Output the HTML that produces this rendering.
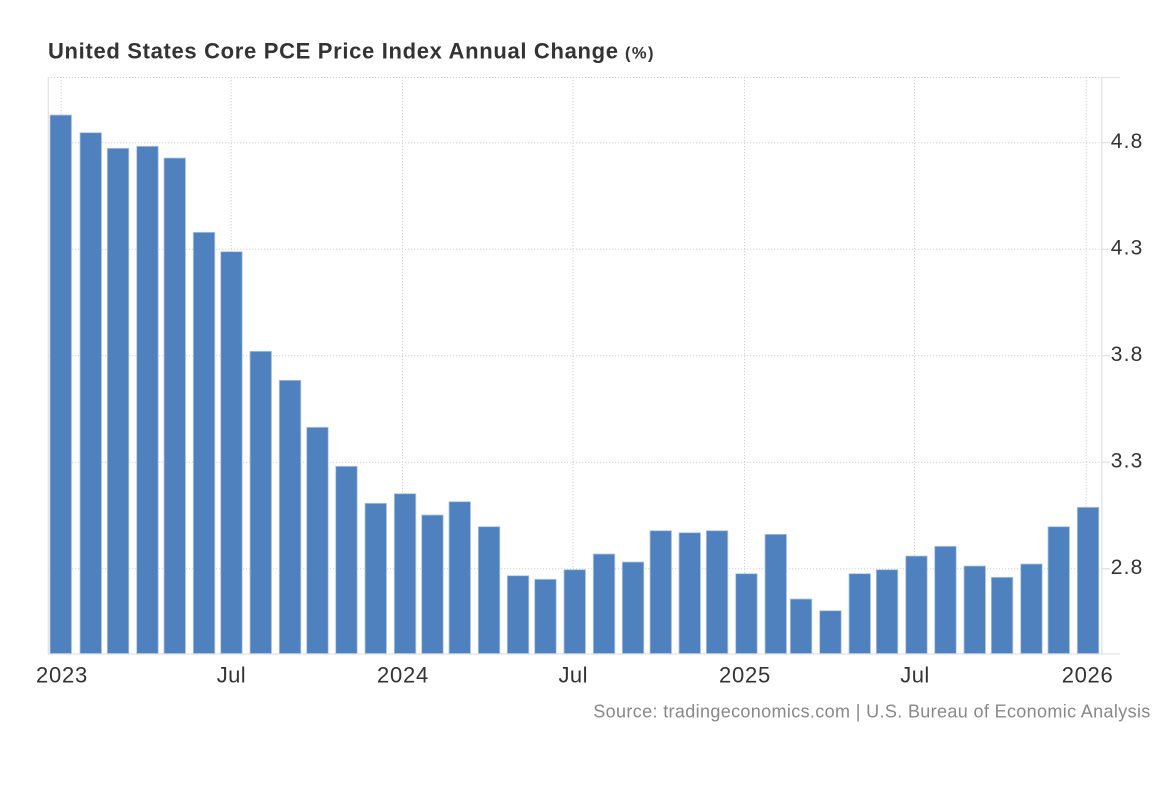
<!DOCTYPE html>
<html>
<head>
<meta charset="utf-8">
<style>
  html, body { margin:0; padding:0; background:#fff; }
  body { width:1171px; height:800px; overflow:hidden; }
  svg { display:block; }
  text { font-family: "Liberation Sans", Arial, sans-serif; }
</style>
</head>
<body>
<svg width="1171" height="800" viewBox="0 0 1171 800" xmlns="http://www.w3.org/2000/svg">
  <rect x="0" y="0" width="1171" height="800" fill="#fff"/>

  <!-- Title -->
  <text x="48" y="58.3" font-size="22" font-weight="bold" fill="#333" textLength="570" lengthAdjust="spacing">United States Core PCE Price Index Annual Change</text>
  <text x="625" y="58.3" font-size="16.5" font-weight="bold" fill="#333" textLength="28.5" lengthAdjust="spacing">(%)</text>

  <!-- Horizontal dotted gridlines -->
  <g stroke="#d2d2d2" stroke-width="1" stroke-dasharray="1.2 1.8" fill="none">
    <line x1="48" y1="77.5" x2="1102" y2="77.5"/>
    <line x1="48" y1="142.7" x2="1102" y2="142.7"/>
    <line x1="48" y1="249.2" x2="1102" y2="249.2"/>
    <line x1="48" y1="355.7" x2="1102" y2="355.7"/>
    <line x1="48" y1="462.2" x2="1102" y2="462.2"/>
    <line x1="48" y1="568.7" x2="1102" y2="568.7"/>
    <!-- Vertical dotted gridlines -->
    <line x1="61.2" y1="77" x2="61.2" y2="653"/>
    <line x1="231.2" y1="77" x2="231.2" y2="653"/>
    <line x1="402.5" y1="77" x2="402.5" y2="653"/>
    <line x1="573" y1="77" x2="573" y2="653"/>
    <line x1="744.5" y1="77" x2="744.5" y2="653"/>
    <line x1="914.5" y1="77" x2="914.5" y2="653"/>
    <line x1="1086.2" y1="77" x2="1086.2" y2="653"/>
  </g>

  <!-- Axis lines -->
  <g stroke="#e3e3e3" stroke-width="1.3" fill="none">
    <line x1="48.3" y1="77" x2="48.3" y2="654"/>
    <line x1="1101.8" y1="77" x2="1101.8" y2="654"/>
    <line x1="48" y1="654" x2="1120" y2="654"/>
    <line x1="1102" y1="77.5" x2="1120" y2="77.5"/>
    <line x1="1102" y1="142.7" x2="1110" y2="142.7"/>
    <line x1="1102" y1="249.2" x2="1110" y2="249.2"/>
    <line x1="1102" y1="355.7" x2="1110" y2="355.7"/>
    <line x1="1102" y1="462.2" x2="1110" y2="462.2"/>
    <line x1="1102" y1="568.7" x2="1110" y2="568.7"/>
  </g>

  <!-- Bars -->
  <g fill="#4e81bd" stroke="#b3c8e3" stroke-width="0.8">
    <rect x="50" y="115" width="21.5" height="538.5"/>
    <rect x="80" y="132.7" width="21.5" height="520.8"/>
    <rect x="107.3" y="148.3" width="21.5" height="505.2"/>
    <rect x="136.7" y="146.3" width="21.5" height="507.2"/>
    <rect x="164" y="158" width="21.5" height="495.5"/>
    <rect x="193.3" y="232.3" width="21.5" height="421.2"/>
    <rect x="220.7" y="251.7" width="21.5" height="401.8"/>
    <rect x="250" y="351.3" width="21.5" height="302.2"/>
    <rect x="279.3" y="380.3" width="21.5" height="273.2"/>
    <rect x="306.7" y="427.3" width="21.5" height="226.2"/>
    <rect x="335.7" y="466.3" width="21.5" height="187.2"/>
    <rect x="365" y="503.3" width="21.5" height="150.2"/>
    <rect x="394.3" y="493.7" width="21.5" height="159.8"/>
    <rect x="421.7" y="515" width="21.5" height="138.5"/>
    <rect x="449" y="501.7" width="21.5" height="151.8"/>
    <rect x="478.3" y="526.7" width="21.5" height="126.8"/>
    <rect x="507.3" y="575.7" width="21.5" height="77.8"/>
    <rect x="534.7" y="579.3" width="21.5" height="74.2"/>
    <rect x="564" y="569.7" width="21.5" height="83.8"/>
    <rect x="593.3" y="554" width="21.5" height="99.5"/>
    <rect x="622.3" y="562" width="21.5" height="91.5"/>
    <rect x="650" y="530.7" width="21.5" height="122.8"/>
    <rect x="679" y="532.7" width="21.5" height="120.8"/>
    <rect x="706.3" y="530.7" width="21.5" height="122.8"/>
    <rect x="735.7" y="573.7" width="21.5" height="79.8"/>
    <rect x="765" y="534.3" width="21.5" height="119.2"/>
    <rect x="790.3" y="599" width="21.5" height="54.5"/>
    <rect x="819.7" y="610.7" width="21.5" height="42.8"/>
    <rect x="849" y="573.7" width="21.5" height="79.8"/>
    <rect x="876.3" y="569.7" width="21.5" height="83.8"/>
    <rect x="905.7" y="556" width="21.5" height="97.5"/>
    <rect x="934.7" y="546.3" width="21.5" height="107.2"/>
    <rect x="964" y="566" width="21.5" height="87.5"/>
    <rect x="991.3" y="577.3" width="21.5" height="76.2"/>
    <rect x="1020.7" y="564" width="21.5" height="89.5"/>
    <rect x="1048" y="526.7" width="21.5" height="126.8"/>
    <rect x="1077.3" y="507.3" width="21.5" height="146.2"/>
  </g>

  <!-- Y axis labels -->
  <g fill="#333" font-size="21">
    <text x="1110.7" y="148" textLength="31.6" lengthAdjust="spacing">4.8</text>
    <text x="1110.7" y="254.5" textLength="31.6" lengthAdjust="spacing">4.3</text>
    <text x="1110.7" y="361" textLength="31.6" lengthAdjust="spacing">3.8</text>
    <text x="1110.7" y="467.5" textLength="31.6" lengthAdjust="spacing">3.3</text>
    <text x="1110.7" y="574" textLength="31.6" lengthAdjust="spacing">2.8</text>
  </g>

  <!-- X axis labels -->
  <g fill="#333" font-size="22">
    <text x="36" y="682.7" textLength="51.3" lengthAdjust="spacing">2023</text>
    <text x="216.7" y="682.7" textLength="29" lengthAdjust="spacing">Jul</text>
    <text x="377" y="682.7" textLength="51.3" lengthAdjust="spacing">2024</text>
    <text x="558.5" y="682.7" textLength="29" lengthAdjust="spacing">Jul</text>
    <text x="719" y="682.7" textLength="51.3" lengthAdjust="spacing">2025</text>
    <text x="900.3" y="682.7" textLength="29" lengthAdjust="spacing">Jul</text>
    <text x="1061.7" y="682.7" textLength="51" lengthAdjust="spacing">2026</text>
  </g>

  <!-- Source -->
  <text x="593.3" y="717.7" font-size="18" fill="#888" textLength="557" lengthAdjust="spacing">Source: tradingeconomics.com | U.S. Bureau of Economic Analysis</text>
</svg>
</body>
</html>
